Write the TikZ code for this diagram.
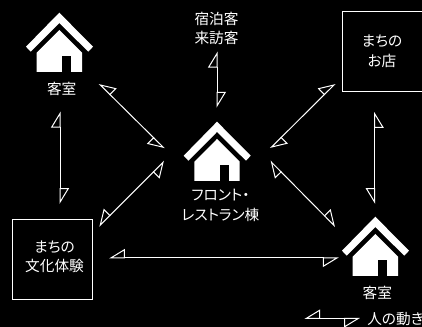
\documentclass[tikz,border=0pt]{standalone}
\usepackage{fontspec}
\setmainfont{Noto Sans CJK JP}[RawFeature=+palt]
\usetikzlibrary{arrows.meta}
\tikzset{
  lbl/.style={text=white,align=center,inner sep=0pt,font=\fontsize{11}{14.5}\selectfont},
  spot/.style={draw=white,line width=0.75pt,minimum size=60pt,inner sep=0pt},
  moveleft/.style={draw=white,line width=0.75pt,
    {Triangle[open,harpoon,length=11.25pt,width=13.5pt]}-{Triangle[open,harpoon,length=11.25pt,width=13.5pt]}},
  moveright/.style={draw=white,line width=0.75pt,
    {Triangle[open,harpoon,swap,length=11.25pt,width=13.5pt]}-{Triangle[open,harpoon,swap,length=11.25pt,width=13.5pt]}},
  house/.pic={
    \fill[white] (0,0) -- (33.7,34) -- (29,39) -- (0,10.3) -- (-28.6,39) -- (-33.3,34) -- cycle;
    \fill[white] (0,17.3) -- (22.7,40) -- (22.7,59.3) -- (-22.6,59.3) -- (-22.6,40) -- cycle;
    \fill[black] (2.7,43.3) rectangle (12,59.3);
  }
}
\begin{document}
\begin{tikzpicture}[x=0.75pt,y=-0.75pt]
\fill[black] (0,0) rectangle (422,327);
\clip (0,0) rectangle (422,327);
\pic at (59.3,12.7) {house};
\pic at (217,121.7) {house};
\pic at (375.3,216.7) {house};
\node[lbl] (room1) at (61.7,89) {客室};
\node[lbl] (room2) at (377.3,292.6) {客室};
\node[lbl] (front) at (220.5,205.5) {フロント・\\レストラン棟};
\node[lbl] (guest) at (216.5,28.3) {宿泊客\\来訪客};
\node[spot] (shop) at (382,51.2) {};
\node[spot] (culture) at (52.2,259.3) {};
\node[lbl] (shoptxt) at (382,51.3) {まちの\\お店};
\node[lbl] (culturetxt) at (54.5,257) {まちの\\文化体験};
\node[lbl,anchor=west] (legend) at (367,319) {人の動き};
\coordinate (a1) at (217,51.7);
\coordinate (a2) at (217,107.7);
\coordinate (b1) at (99,83.7);
\coordinate (b2) at (164.5,148.5);
\coordinate (c1) at (270.3,148.3);
\coordinate (c2) at (335.3,83.7);
\coordinate (d1) at (60,111.7);
\coordinate (d2) at (60,204);
\coordinate (e1) at (374.7,112);
\coordinate (e2) at (374.7,204);
\coordinate (f1) at (99,226.3);
\coordinate (f2) at (164.3,161);
\coordinate (g1) at (270.3,161);
\coordinate (g2) at (335.3,226.7);
\coordinate (h1) at (109,258);
\coordinate (h2) at (338.7,258);
\coordinate (k1) at (304.3,318.5);
\coordinate (k2) at (360,318.5);
\path[moveleft] (a1) -- (a2);
\path[moveright] (b1) -- (b2);
\path[moveleft] (c1) -- (c2);
\path[moveleft] (d1) -- (d2);
\path[moveright] (e1) -- (e2);
\path[moveright] (f1) -- (f2);
\path[moveleft] (g1) -- (g2);
\path[moveright] (h1) -- (h2);
\path[moveright] (k1) -- (k2);
\end{tikzpicture}
\end{document}
